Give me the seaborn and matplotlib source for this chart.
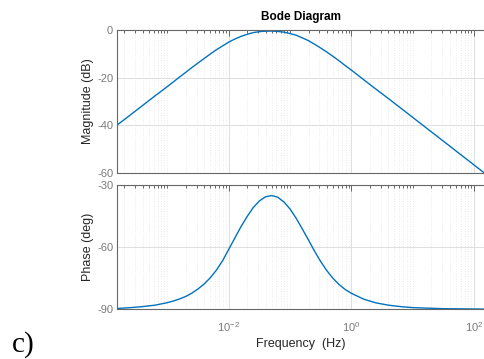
import numpy as np
import pandas as pd
import matplotlib
matplotlib.use("Agg")
import matplotlib.pyplot as plt
import matplotlib.ticker as mticker
import seaborn as sns

# ---- data ----
freq_hz = [1.535e-4, 2.51e-4, 3.98e-4, 6.31e-4, 1.0e-3, 1.26e-3, 1.58e-3, 2.0e-3,
           2.51e-3, 3.16e-3, 3.98e-3, 5.01e-3, 6.31e-3, 7.94e-3, 1.0e-2, 1.26e-2,
           1.58e-2, 2.0e-2, 2.51e-2, 3.16e-2, 3.98e-2, 5.01e-2, 6.31e-2, 7.94e-2,
           0.1, 0.126, 0.158, 0.2, 0.251, 0.316, 0.398, 0.501, 0.631, 0.794,
           1.0, 1.58, 2.51, 3.98, 6.31, 10.0, 31.6, 143.9]

mag_db = [-39.9, -35.7, -31.7, -27.7, -23.8, -21.8, -19.8, -17.8,
          -15.8, -13.9, -12.0, -10.1, -8.3, -6.7, -5.1, -3.8,
          -2.7, -1.8, -1.1, -0.7, -0.5, -0.45, -0.6, -0.9,
          -1.5, -2.2, -3.3, -4.5, -6.0, -7.6, -9.3, -11.1, -13.0, -15.0,
          -16.9, -20.9, -24.9, -28.8, -32.8, -36.8, -46.8, -60.0]

phase_deg = [-89.6, -89.2, -88.7, -88.0, -86.8, -86.0, -85.0, -83.8,
             -82.2, -80.2, -77.8, -74.8, -71.1, -66.6, -61.1, -55.6,
             -50.2, -45.2, -40.9, -37.7, -35.7, -35.1, -35.9, -38.2,
             -41.6, -46.1, -51.2, -56.6, -62.0, -67.0, -71.4, -75.1, -78.1, -80.5,
             -82.3, -85.1, -86.9, -88.0, -88.7, -89.2, -89.7, -89.9]

mag_ticks = [0, -20, -40, -60]
phase_ticks = [-30, -60, -90]
freq_major_ticks = [1e-2, 1e0, 1e2]
freq_tick_labels = [r"$10^{-2}$", r"$10^{0}$", r"$10^{2}$"]

title = "Bode Diagram"
xlabel = "Frequency  (Hz)"
ylabel_mag = "Magnitude (dB)"
ylabel_phase = "Phase (deg)"
panel_label = "c)"

# ---- style ----
sns.set_theme(style="white")
plt.rcParams["font.family"] = ["Liberation Sans", "DejaVu Sans"]
plt.rcParams["mathtext.fontset"] = "custom"
plt.rcParams["mathtext.rm"] = "Liberation Sans"
plt.rcParams["mathtext.it"] = "Liberation Sans:italic"
plt.rcParams["axes.unicode_minus"] = False

line_color = "#0072BD"
axis_color = "#666666"
tick_label_color = "#7a7a7a"
label_color = "#262626"

W, H = 484, 359
fig = plt.figure(figsize=(W / 100, H / 100), dpi=100)

left_px, right_px = 117.3, 484.0
mag_top, mag_bot = 30.0, 172.7
ph_top, ph_bot = 185.0, 309.3

def frac_rect(top, bot):
    return [left_px / W, 1 - bot / H, (right_px - left_px) / W, (bot - top) / H]

ax_mag = fig.add_axes(frac_rect(mag_top, mag_bot))
ax_ph = fig.add_axes(frac_rect(ph_top, ph_bot))

df_mag = pd.DataFrame({"f": freq_hz, "v": mag_db})
df_ph = pd.DataFrame({"f": freq_hz, "v": phase_deg})

sns.lineplot(data=df_mag, x="f", y="v", ax=ax_mag, color=line_color, linewidth=1.0,
             sort=True, estimator=None)
sns.lineplot(data=df_ph, x="f", y="v", ax=ax_ph, color=line_color, linewidth=1.0,
             sort=True, estimator=None)

xlim = (1.535e-4, 143.9)
minor_ticks = []
for dec in range(-4, 3):
    for m in range(1, 10):
        v = m * 10.0 ** dec
        if m == 1 and dec in (-2, 0, 2):
            continue
        if xlim[0] < v < xlim[1]:
            minor_ticks.append(v)

for ax, ticks, ylim in ((ax_mag, mag_ticks, (-60, 0)), (ax_ph, phase_ticks, (-90, -30))):
    ax.set_xscale("log")
    ax.set_xlim(*xlim)
    ax.set_ylim(*ylim)
    ax.set_yticks(ticks)
    ax.set_xticks(freq_major_ticks)
    ax.xaxis.set_minor_locator(mticker.FixedLocator(minor_ticks))
    ax.xaxis.set_minor_formatter(mticker.NullFormatter())
    ax.yaxis.set_minor_locator(mticker.NullLocator())
    ax.grid(True, which="major", color="#dedede", linewidth=0.7, linestyle="-")
    ax.grid(True, which="minor", axis="x", color="#e4e4e4", linewidth=0.6, linestyle=(0, (1, 2)))
    ax.set_axisbelow(True)
    for side in ("left", "bottom", "top"):
        ax.spines[side].set_visible(True)
        ax.spines[side].set_color(axis_color)
        ax.spines[side].set_linewidth(0.8)
    ax.spines["right"].set_visible(False)
    ax.tick_params(which="both", direction="in", top=True, right=False, color=axis_color,
                   labelcolor=tick_label_color, labelsize=8, width=0.7)
    ax.tick_params(which="major", length=4, pad=3)
    ax.tick_params(which="minor", length=2.5)
    ax.set_xlabel("")
    ax.set_ylabel("")
    ax.set_facecolor("white")

ax_mag.tick_params(axis="x", which="both", labelbottom=False)
ax_ph.set_xticklabels(freq_tick_labels)
ax_ph.tick_params(axis="x", which="major", pad=8)

ax_mag.set_ylabel(ylabel_mag, color=label_color, fontsize=9, labelpad=2)
ax_ph.set_ylabel(ylabel_phase, color=label_color, fontsize=9, labelpad=2)
ax_ph.set_xlabel(xlabel, color=label_color, fontsize=9, labelpad=3)
ax_mag.set_title(title, color="#000000", fontsize=8.5, fontweight="bold", pad=7)

fig.text(12 / W, 1 - 352 / H, panel_label, family=["Liberation Serif", "DejaVu Serif"],
         fontsize=21, color="#000000", ha="left", va="baseline")

fig.savefig("out.png", dpi=100, facecolor="white")
